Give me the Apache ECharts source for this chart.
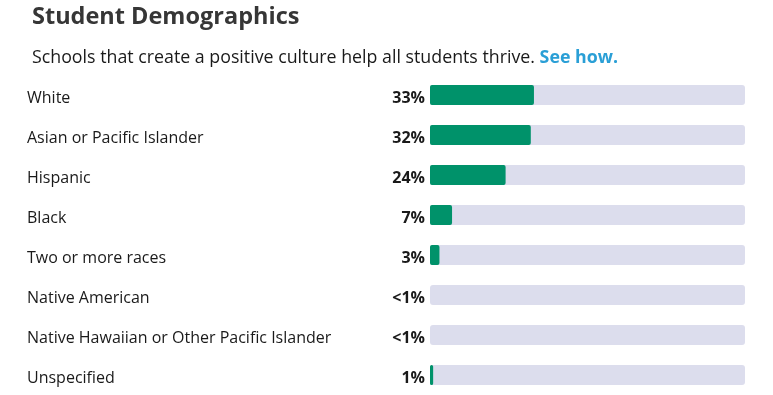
<!DOCTYPE html>
<html><head><meta charset="utf-8">
<script src="https://cdn.jsdelivr.net/npm/echarts@6/dist/echarts.min.js"></script>
<style>html,body{margin:0;padding:0;background:#fff}#c{width:773px;height:395px}</style>
</head><body><div id="c"></div>
<script>
const categories = ['White','Asian or Pacific Islander','Hispanic','Black','Two or more races','Native American','Native Hawaiian or Other Pacific Islander','Unspecified'];
const values = [33, 32, 24, 7, 3, 0, 0, 1];
const pctLabels = ['33%','32%','24%','7%','3%','<1%','<1%','1%'];
const trackMax = 100;

const chart = echarts.init(document.getElementById('c'));
const FONT = '"Open Sans", sans-serif';
chart.setOption({
  animation: false,
  title: [{
    text: 'Student Demographics', left: 27, top: 0,
    textStyle: {fontFamily: FONT, fontWeight: 'bold', fontSize: 23.5, color: '#363636'}
  }, {
    text: '{a|Schools that create a positive culture help all students thrive. }{b|See how.}',
    left: 27, top: 44,
    textStyle: {fontWeight: 'normal', rich: {
      a: {fontFamily: FONT, fontSize: 17.8, fontWeight: 'normal', color: '#1a1a1a'},
      b: {fontFamily: FONT, fontSize: 17.8, fontWeight: 'bold', color: '#2a9fd6'}
    }}
  }],
  grid: {left: 430, right: 28, top: 75, bottom: 0},
  xAxis: {type: 'value', min: 0, max: trackMax, show: false},
  yAxis: {
    type: 'category', data: categories, inverse: true,
    axisLine: {show: false}, axisTick: {show: false},
    axisLabel: {align: 'left', margin: 403, formatter: v => '{t|' + v + '}',
      rich: {t: {fontFamily: FONT, fontSize: 16, color: '#1a1a1a', padding: [6, 0, 0, 0]}}}
  },
  series: [{
    type: 'bar', data: categories.map(() => trackMax), barWidth: 20, silent: true,
    itemStyle: {color: '#dcdded', borderRadius: 3},
    label: {show: true, position: 'left', distance: 5, offset: [0, 3], formatter: p => pctLabels[p.dataIndex],
      fontFamily: FONT, fontSize: 16, fontWeight: 'bold', color: '#1a1a1a'},
    z: 1
  }, {
    type: 'bar', data: values, barWidth: 20, barGap: '-100%',
    itemStyle: {color: '#00926a', borderRadius: 2},
    z: 2
  }]
});
</script></body></html>
